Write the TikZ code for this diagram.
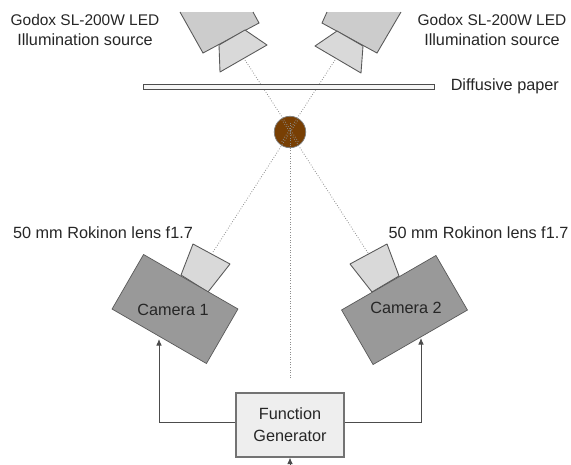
\documentclass[tikz,border=0pt]{standalone}
\usepackage{fontspec}
\usepackage{xcolor}
\setmainfont{Liberation Sans}
\usetikzlibrary{arrows.meta,positioning}
\definecolor{lampGray}{RGB}{204,204,204}
\definecolor{lensGray}{RGB}{217,217,217}
\definecolor{camGray}{RGB}{153,153,153}
\definecolor{boxGray}{RGB}{238,238,238}
\definecolor{sampleBrown}{RGB}{120,63,4}
\newcommand{\lampname}{{\fontsize{8.8}{10}\selectfont Godox SL-200W LED}}

\begin{document}
\begin{tikzpicture}[
  x=0.02cm, y=-0.02cm,
  lamp/.style={draw=black!65, fill=lampGray, line width=0.5pt},
  lens/.style={draw=black!65, fill=lensGray, line width=0.5pt, line join=round},
  camera/.style={draw=black!65, fill=camGray, line width=0.4pt, minimum width=2.18cm, minimum height=1.26cm},
  beam/.style={densely dotted, draw=black!45, line width=0.45pt},
  arrow/.style={-{Latex[length=1.3mm,width=1.1mm]}, draw=black!70, line width=0.5pt},
  label/.style={font=\fontsize{9.25}{11}\selectfont, text=black!85, inner sep=0pt, align=center}
]
  \useasboundingbox (0,0) rectangle (571,464);
  % lamps
  \draw[lamp] (180,12) -- (203,53) -- (259,23) -- (253,12);
  \draw[lamp] (401,12) -- (377,53) -- (322,23) -- (327,12);
  \draw[lens] (219,45) -- (245,30) -- (267,45) -- (220,72) -- cycle;
  \draw[lens] (363,46) -- (337,31) -- (315,46) -- (361,73) -- cycle;
  % sample
  \node[circle, draw=black!50, fill=sampleBrown, minimum size=0.63cm, inner sep=0pt, line width=0.4pt] (sample) at (290,132) {};
  % beams
  \coordinate (lampBeamL) at (245,60);
  \coordinate (lampBeamR) at (335,60);
  \coordinate (camBeamL) at (213,252);
  \coordinate (camBeamR) at (368,253);
  \coordinate (genBeam) at (290,378);
  \draw[beam] (lampBeamL) -- (299,143);
  \draw[beam] (lampBeamR) -- (281,143);
  \draw[beam] (camBeamL) -- (298,120);
  \draw[beam] (camBeamR) -- (282,120);
  \draw[beam] (genBeam) -- (290,123);
  % paper
  \node[draw=black!70, fill=boxGray!60, minimum width=5.82cm, minimum height=0.1cm, inner sep=0pt, line width=0.5pt] (paper) at (288.5,86.5) {};
  \node[label, right=0.32cm of paper] (paperText) {Diffusive paper};
  \node[label] (lampTextL) at (85,30) {\lampname\\[0.6pt]Illumination source};
  \node[label] (lampTextR) at (492,30) {\lampname\\[0.6pt]Illumination source};
  % cameras
  \draw[lens] (181,275) -- (193,244) -- (230,264) -- (208,292) -- cycle;
  \draw[lens] (399,276) -- (387,244) -- (350,264) -- (372,292) -- cycle;
  \node[camera, rotate=-30] (camOne) at (175,309) {};
  \node[camera, rotate=30] (camTwo) at (404.5,310) {};
  \node[label] (camOneText) at (173,310) {Camera 1};
  \node[label] (camTwoText) at (406,308) {Camera 2};
  \node[label] (lensTextL) at (103,233) {50 mm Rokinon lens f1.7};
  \node[label] (lensTextR) at (478.5,233) {50 mm Rokinon lens f1.7};
  % generator
  \node[draw=black!55, fill=boxGray, minimum width=2.16cm, minimum height=1.28cm, line width=0.6pt, label, inner sep=0pt] (gen) at (290,425) {Function\\[1.5pt]Generator};
  \coordinate (camOneIn) at (159,339);
  \coordinate (camTwoIn) at (421,338);
  \coordinate (trigger) at (290,464);
  \draw[arrow] (gen.west |- 0,422) -| (camOneIn);
  \draw[arrow] (gen.east |- 0,422) -| (camTwoIn);
  \draw[arrow] (trigger) -- (gen.south);
\end{tikzpicture}
\end{document}
